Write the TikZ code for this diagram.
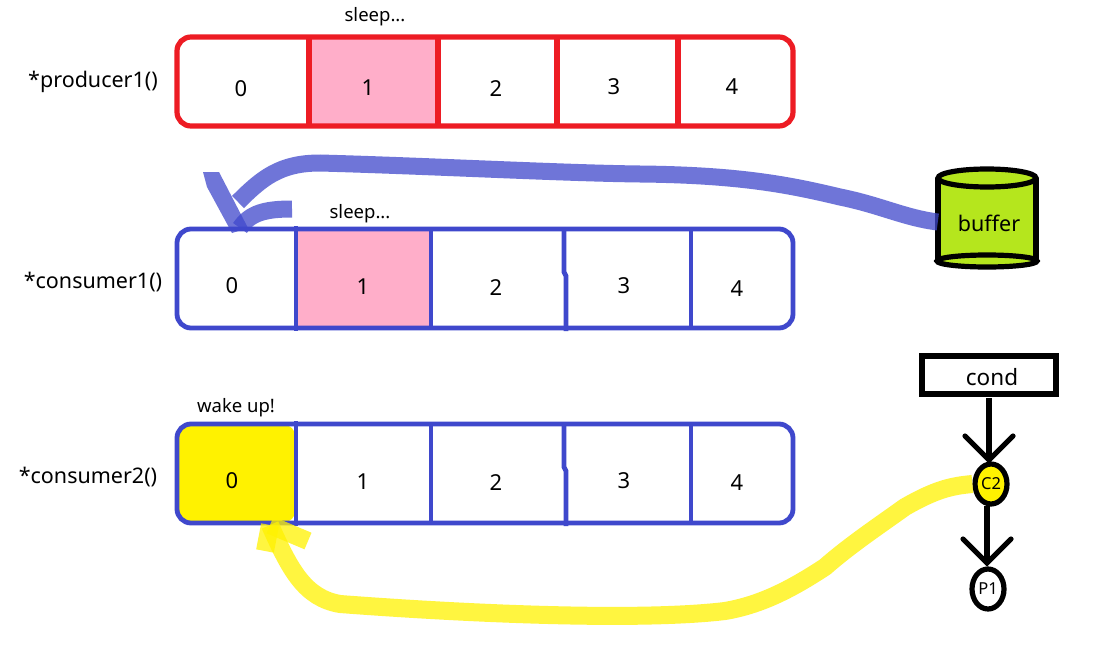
\documentclass[tikz,border=0pt]{standalone}
\usepackage{fontspec}
\setmainfont{Noto Sans}
\usetikzlibrary{calc,shapes.geometric}
\definecolor{redb}{HTML}{ED1C24}
\definecolor{blueb}{HTML}{3F48CC}
\definecolor{pinkc}{HTML}{FFAEC9}
\definecolor{yel}{HTML}{FFF200}
\definecolor{lime}{HTML}{B5E61D}
\newcommand{\fs}[1]{\fontsize{#1}{#1}\selectfont}
\tikzset{
  txt/.style={inner sep=0pt,font=\fs{21.5}},
  num/.style={inner sep=0pt,font=\fs{22}},
  small/.style={inner sep=0pt,font=\fs{18.5}},
  redl/.style={draw=redb,line width=5.2pt},
  bluel/.style={draw=blueb,line width=4.8pt},
  blk/.style={draw=black,line width=5.2pt},
  bluearrow/.style={draw=blueb,opacity=.75,line width=17pt},
  yelarrow/.style={draw=yel,opacity=.75,line width=18pt},
  cellfill/.style={draw=none,minimum width=#1,minimum height=95pt,inner sep=0pt},
}
\begin{document}
\begin{tikzpicture}[x=1pt,y=-1pt]
\useasboundingbox (0,0) rectangle (1103,661);
\fill[white] (0,0) rectangle (1103,661);
% producer row
\node[cellfill=129pt,fill=pinkc,minimum height=88pt] (p1fill) at (373.5,81.5) {};
\draw[redl,rounded corners=14pt] (177,37) rectangle (793,126);
\foreach \x in {309,438,557,678} \draw[redl] (\x,37) -- (\x,128);
% consumer1 row
\node[cellfill=135pt,fill=pinkc] (c1fill) at (363.5,278.5) {};
\draw[bluel,rounded corners=14pt] (177,229) rectangle (793,328);
\draw[bluel] (296,226) -- (296,331);
\draw[bluel] (431,229) -- (431,328);
\draw[bluel] (564,229) -- (564,272) -- (566,276) -- (566,331);
\draw[bluel] (691,229) -- (691,328);
% consumer2 row
\fill[yel,rounded corners=14pt] (177,424) -- (296,424) -- (296,523) -- (177,523) -- cycle;
\draw[bluel,rounded corners=14pt] (177,424) rectangle (793,523);
\draw[bluel] (296,421) -- (296,526);
\draw[bluel] (431,424) -- (431,523);
\draw[bluel] (564,424) -- (564,467) -- (566,471) -- (566,526);
\draw[bluel] (691,424) -- (691,523);
% labels
\node[txt] (lp) at (93,82) {*producer1()};
\node[txt] (lc1) at (93,282) {*consumer1()};
\node[txt] (lc2) at (88,477) {*consumer2()};
\node[small] (s1) at (375,17) {sleep...};
\node[small] (s2) at (360,214) {sleep...};
\node[small] (wk) at (236,408) {wake up!};
\node[num] (p0) at (241,89) {0};
\node[num] (p1) at (368,88) {1};
\node[num] (p2) at (496,89) {2};
\node[num] (p3) at (614,87) {3};
\node[num] (p4) at (732,87) {4};
\node[num] (a0) at (232,286) {0};
\node[num] (a1) at (363,287) {1};
\node[num] (a2) at (496,288) {2};
\node[num] (a3) at (624,286) {3};
\node[num] (a4) at (737,289) {4};
\node[num] (b0) at (232,481) {0};
\node[num] (b1) at (363,482) {1};
\node[num] (b2) at (496,483) {2};
\node[num] (b3) at (624,481) {3};
\node[num] (b4) at (737,483) {4};
% buffer cylinder
\path[fill=lime] (938,178) rectangle (1036,261);
\draw[blk] (938,178) -- (938,261) (1036,178) -- (1036,261);
\draw[blk,fill=lime] (987,178) ellipse[x radius=49,y radius=9];
\draw[blk,fill=lime] (987,261) ellipse[x radius=50,y radius=6];
\node[inner sep=0pt,minimum width=98pt,minimum height=40pt] (buffer) at (987,222) {};
\node[inner sep=0pt,font=\fs{21.5}] (buffertxt) at (989,223) {buffer};
% cond, C2, P1
\node[blk,minimum width=134pt,minimum height=38pt,inner sep=0pt] (cond) at (989,375) {};
\node[inner sep=0pt,font=\fs{22.5}] (condtxt) at (992,377) {cond};
\node[blk,ellipse,fill=yel,minimum width=32pt,minimum height=40pt,inner sep=0pt,font=\fs{16.5}] (c2) at (991,484) {C2};
\node[blk,ellipse,fill=white,minimum width=32pt,minimum height=40pt,inner sep=0pt,font=\fs{16.5}] (pb) at (988,589) {P1};
\coordinate (ct) at (989,460);
\coordinate (pt) at (987,563);
\draw[blk] (989,398) -- (ct);
\draw[blk,line cap=round] ([shift={(-24,-24)}]ct) -- (ct) -- ([shift={(24,-24)}]ct);
\draw[blk] (987,506) -- (pt);
\draw[blk,line cap=round] ([shift={(-24,-24)}]pt) -- (pt) -- ([shift={(24,-24)}]pt);
% blue arrow
\coordinate (be) at (238,202);
\coordinate (bh) at (240,228);
\draw[bluearrow] (buffer.west) .. controls (905,218) and (880,205) .. (840,197)
  .. controls (790,185) and (740,175) .. (640,174)
  .. controls (560,173) and (430,166) .. (320,163)
  .. controls (280,163) and (262,178) .. (be);
\draw[bluearrow] (292,209) .. controls (265,209) and (250,213) .. (bh);
\fill[blueb,opacity=.75] (203,172) -- (219,172) -- (248,228) -- (232,233) -- (207,187) -- cycle;
% yellow arrow
\coordinate (ye) at (270,525);
\draw[yelarrow] (c2.west) .. controls (950,486) and (935,490) .. (905,507)
  .. controls (880,525) and (850,545) .. (825,567)
  .. controls (790,590) and (760,605) .. (725,611)
  .. controls (650,620) and (500,616) .. (340,604)
  .. controls (305,598) and (290,570) .. (ye);
\draw[yelarrow] (265,551) -- (270,525);
\draw[yelarrow] (308,541) -- (ye);
\end{tikzpicture}
\end{document}
